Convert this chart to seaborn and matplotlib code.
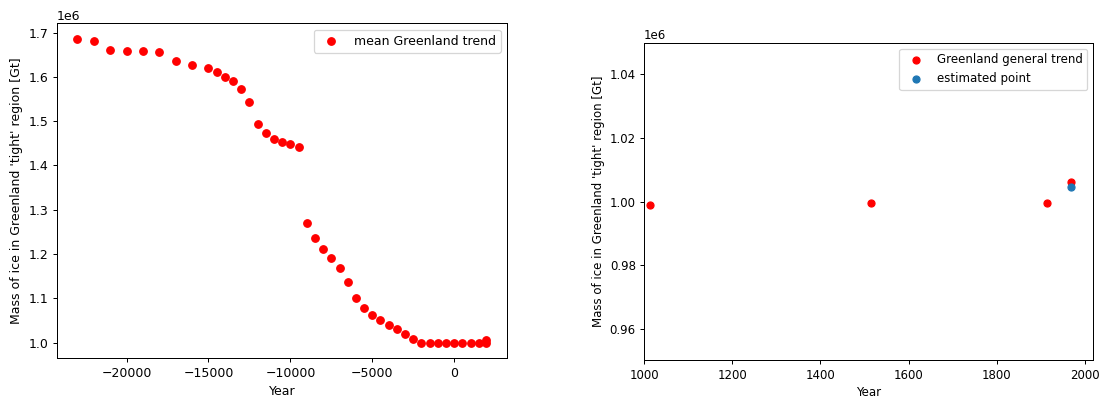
import matplotlib
matplotlib.use('Agg')
import matplotlib.pyplot as plt
import seaborn as sns
import numpy as np

# 左图：格陵兰平均趋势
years = [-23000, -22000, -21000, -20000, -19000, -18000, -17000, -16000, -15000,
         -14500, -14000, -13500, -13000, -12500, -12000, -11500, -11000, -10500, -10000, -9500,
         -9000, -8500, -8000, -7500, -7000, -6500, -6000, -5500, -5000, -4500, -4000,
         -3500, -3000, -2500, -2000, -1500, -1000, -500, 0, 500,
         1014, 1514, 1914, 1969]
mass = [1.6864, 1.6803, 1.6600, 1.6584, 1.6577, 1.6555, 1.6352, 1.6277, 1.6210,
        1.6104, 1.5998, 1.5900, 1.5736, 1.5434, 1.4924, 1.4735, 1.4586, 1.4519, 1.4487, 1.4413,
        1.2699, 1.2368, 1.2106, 1.1903, 1.1696, 1.1369, 1.1001, 1.0789, 1.0631, 1.0519, 1.0399,
        1.0302, 1.0203, 1.0090, 0.9990, 0.9990, 0.9990, 0.9990, 0.9990, 0.9990,
        0.9990, 0.9995, 0.9995, 1.00625]

# 右图：近期趋势 + 估计点
recent_years = [1014, 1514, 1914, 1969]
recent_mass = [0.9990, 0.9995, 0.9995, 1.00625]
est_year = [1969]
est_mass = [1.0046]

ylabel = "Mass of ice in Greenland 'tight' region [Gt]"

# 原图大约是 90 dpi 渲染的，右图又缩小了一点
fig = plt.figure(figsize=(1102 / 90, 398 / 90), dpi=90)
ax1 = fig.add_axes([0.0517, 0.0997, 0.4083, 0.8417])
ax2 = fig.add_axes([0.5844, 0.0947, 0.4077, 0.798])

sns.scatterplot(x=years, y=np.array(mass) * 1e6, color='red', s=36, linewidth=1,
                edgecolor='red', label='mean Greenland trend', ax=ax1)
ax1.set_xlabel('Year')
ax1.set_ylabel(ylabel)
ax1.legend(loc='upper right')

k = 0.94  # 右图缩放
fs = 10 * k
sns.scatterplot(x=recent_years, y=np.array(recent_mass) * 1e6, color='red', s=36 * k * k,
                linewidth=k, edgecolor='red', label='Greenland general trend', ax=ax2)
sns.scatterplot(x=est_year, y=np.array(est_mass) * 1e6, color='tab:blue', s=36 * k * k,
                linewidth=k, edgecolor='tab:blue', label='estimated point', ax=ax2)
ax2.set_xlim(1000, 2019)
ax2.set_ylim(0.95e6, 1.05e6)
ax2.set_xlabel('Year', fontsize=fs, labelpad=4 * k)
ax2.set_ylabel(ylabel, fontsize=fs, labelpad=4 * k)
ax2.tick_params(labelsize=fs, length=3.5 * k, pad=3.5 * k)
ax2.yaxis.get_offset_text().set_fontsize(fs)
ax2.legend(loc='upper right', fontsize=fs)

fig.savefig('out.png', dpi=90)
